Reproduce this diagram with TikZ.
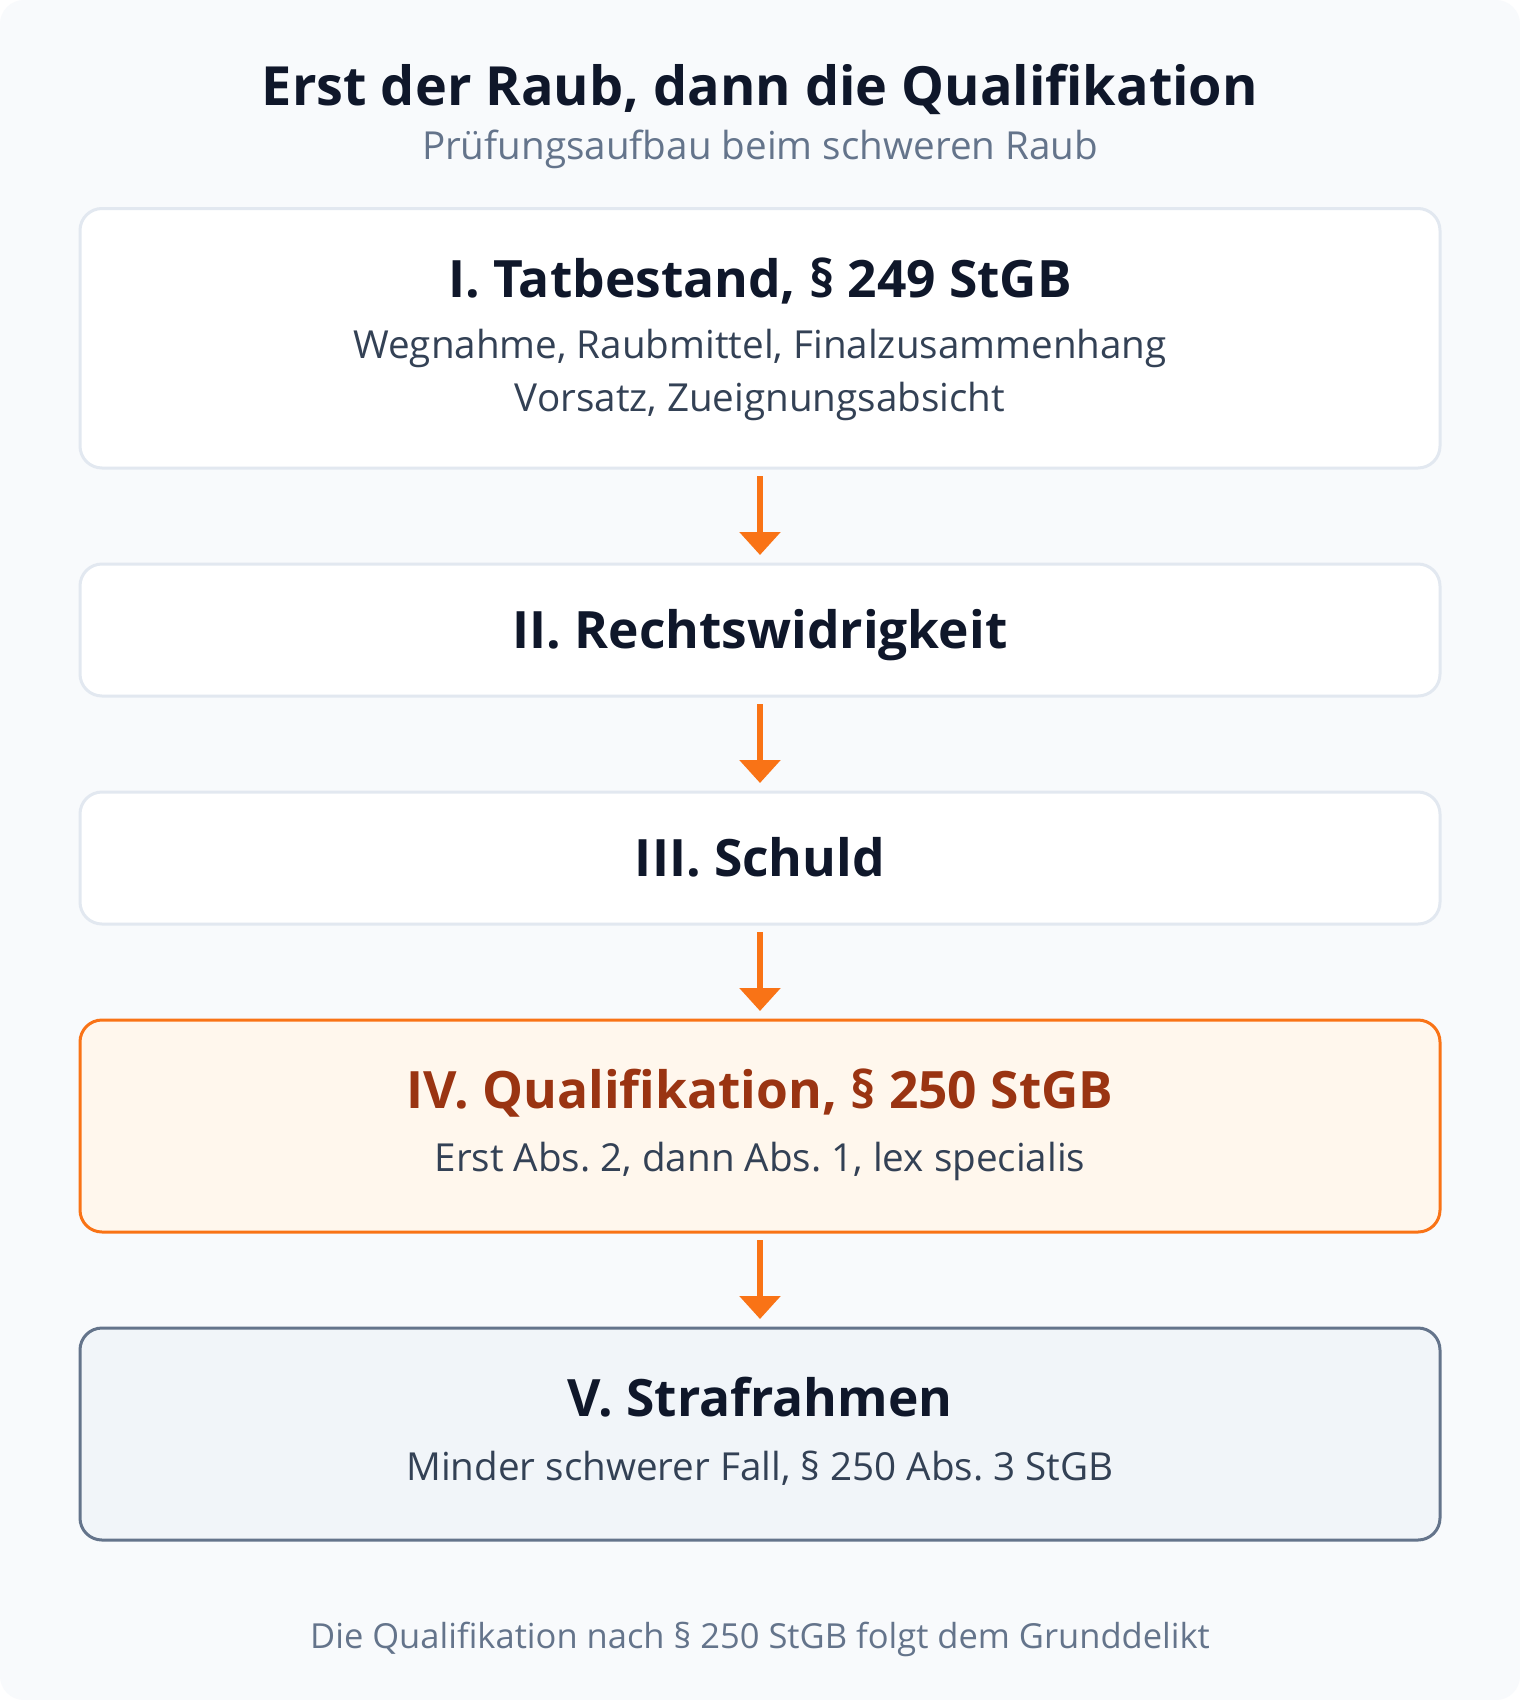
\documentclass[tikz,border=0pt]{standalone}
\usepackage{fontspec}
\setmainfont{Open Sans}
\usetikzlibrary{arrows.meta}
\definecolor{ink}{HTML}{0F172A}
\definecolor{slate}{HTML}{334155}
\definecolor{muted}{HTML}{64748B}
\definecolor{edge}{HTML}{E2E8F0}
\definecolor{paper}{HTML}{F8FAFC}
\definecolor{accent}{HTML}{F97316}
\definecolor{accentbg}{HTML}{FFF7ED}
\definecolor{accentink}{HTML}{9A3412}
\definecolor{greybg}{HTML}{F1F5F9}
\frenchspacing
\begin{document}
\begin{tikzpicture}
 [x=1pt,y=-1pt,
  box/.style={rectangle,rounded corners=22pt,line width=3pt,draw=edge,fill=white,minimum width=1360pt,inner sep=0pt},
  head/.style={anchor=base,inner sep=0pt,text=ink,font=\bfseries\fontsize{51.5}{60}\selectfont},
  sub/.style={anchor=base,inner sep=0pt,text=slate,font=\fontsize{38.6}{46}\selectfont},
  flow/.style={draw=accent,line width=6pt,-{Triangle[length=23pt,width=40pt]},shorten <=6.5pt,shorten >=7.5pt}]
  \useasboundingbox (0,0) rectangle (1520,1700);
  \fill[white] (0,0) rectangle (1520,1700);
  \fill[paper,rounded corners=24pt] (0,0) rectangle (1520,1700);

  \node (title)[head,font=\bfseries\fontsize{54}{64}\selectfont] at (760,105) {Erst der Raub, dann die Qualifikation};
  \node (subtitle)[sub,text=muted,font=\fontsize{38.6}{46}\selectfont] at (760,159) {Prüfungsaufbau beim schweren Raub};

  \node (n1)[box,minimum height=259.5pt] at (760,338.25) {};
  \node (n2)[box,minimum height=132pt] at (760,630) {};
  \node (n3)[box,minimum height=132pt] at (760,858) {};
  \node (n4)[box,minimum height=212pt,draw=accent,fill=accentbg] at (760,1126) {};
  \node (n5)[box,minimum height=212pt,draw=muted,fill=greybg] at (760,1434) {};

  \node (t1)[head] at (760,297) {I. Tatbestand, § 249 StGB};
  \node (s1a)[sub] at (760,358) {Wegnahme, Raubmittel, Finalzusammenhang};
  \node (s1b)[sub] at (760,411) {Vorsatz, Zueignungsabsicht};
  \node (t2)[head] at (760,648) {II. Rechtswidrigkeit};
  \node (t3)[head] at (760,876) {III. Schuld};
  \node (t4)[head,text=accentink] at (760,1108) {IV. Qualifikation, § 250 StGB};
  \node (s4)[sub] at (760,1171) {Erst Abs. 2, dann Abs. 1, lex specialis};
  \node (t5)[head] at (760,1416) {V. Strafrahmen};
  \node (s5)[sub] at (760,1480) {Minder schwerer Fall, § 250 Abs. 3 StGB};

  \node (foot)[sub,text=muted,font=\fontsize{34.5}{42}\selectfont] at (760,1648) {Die Qualifikation nach § 250 StGB folgt dem Grunddelikt};

  \foreach \from/\to in {n1/n2,n2/n3,n3/n4,n4/n5}
    \draw[flow] (\from) -- (\to);
\end{tikzpicture}
\end{document}
